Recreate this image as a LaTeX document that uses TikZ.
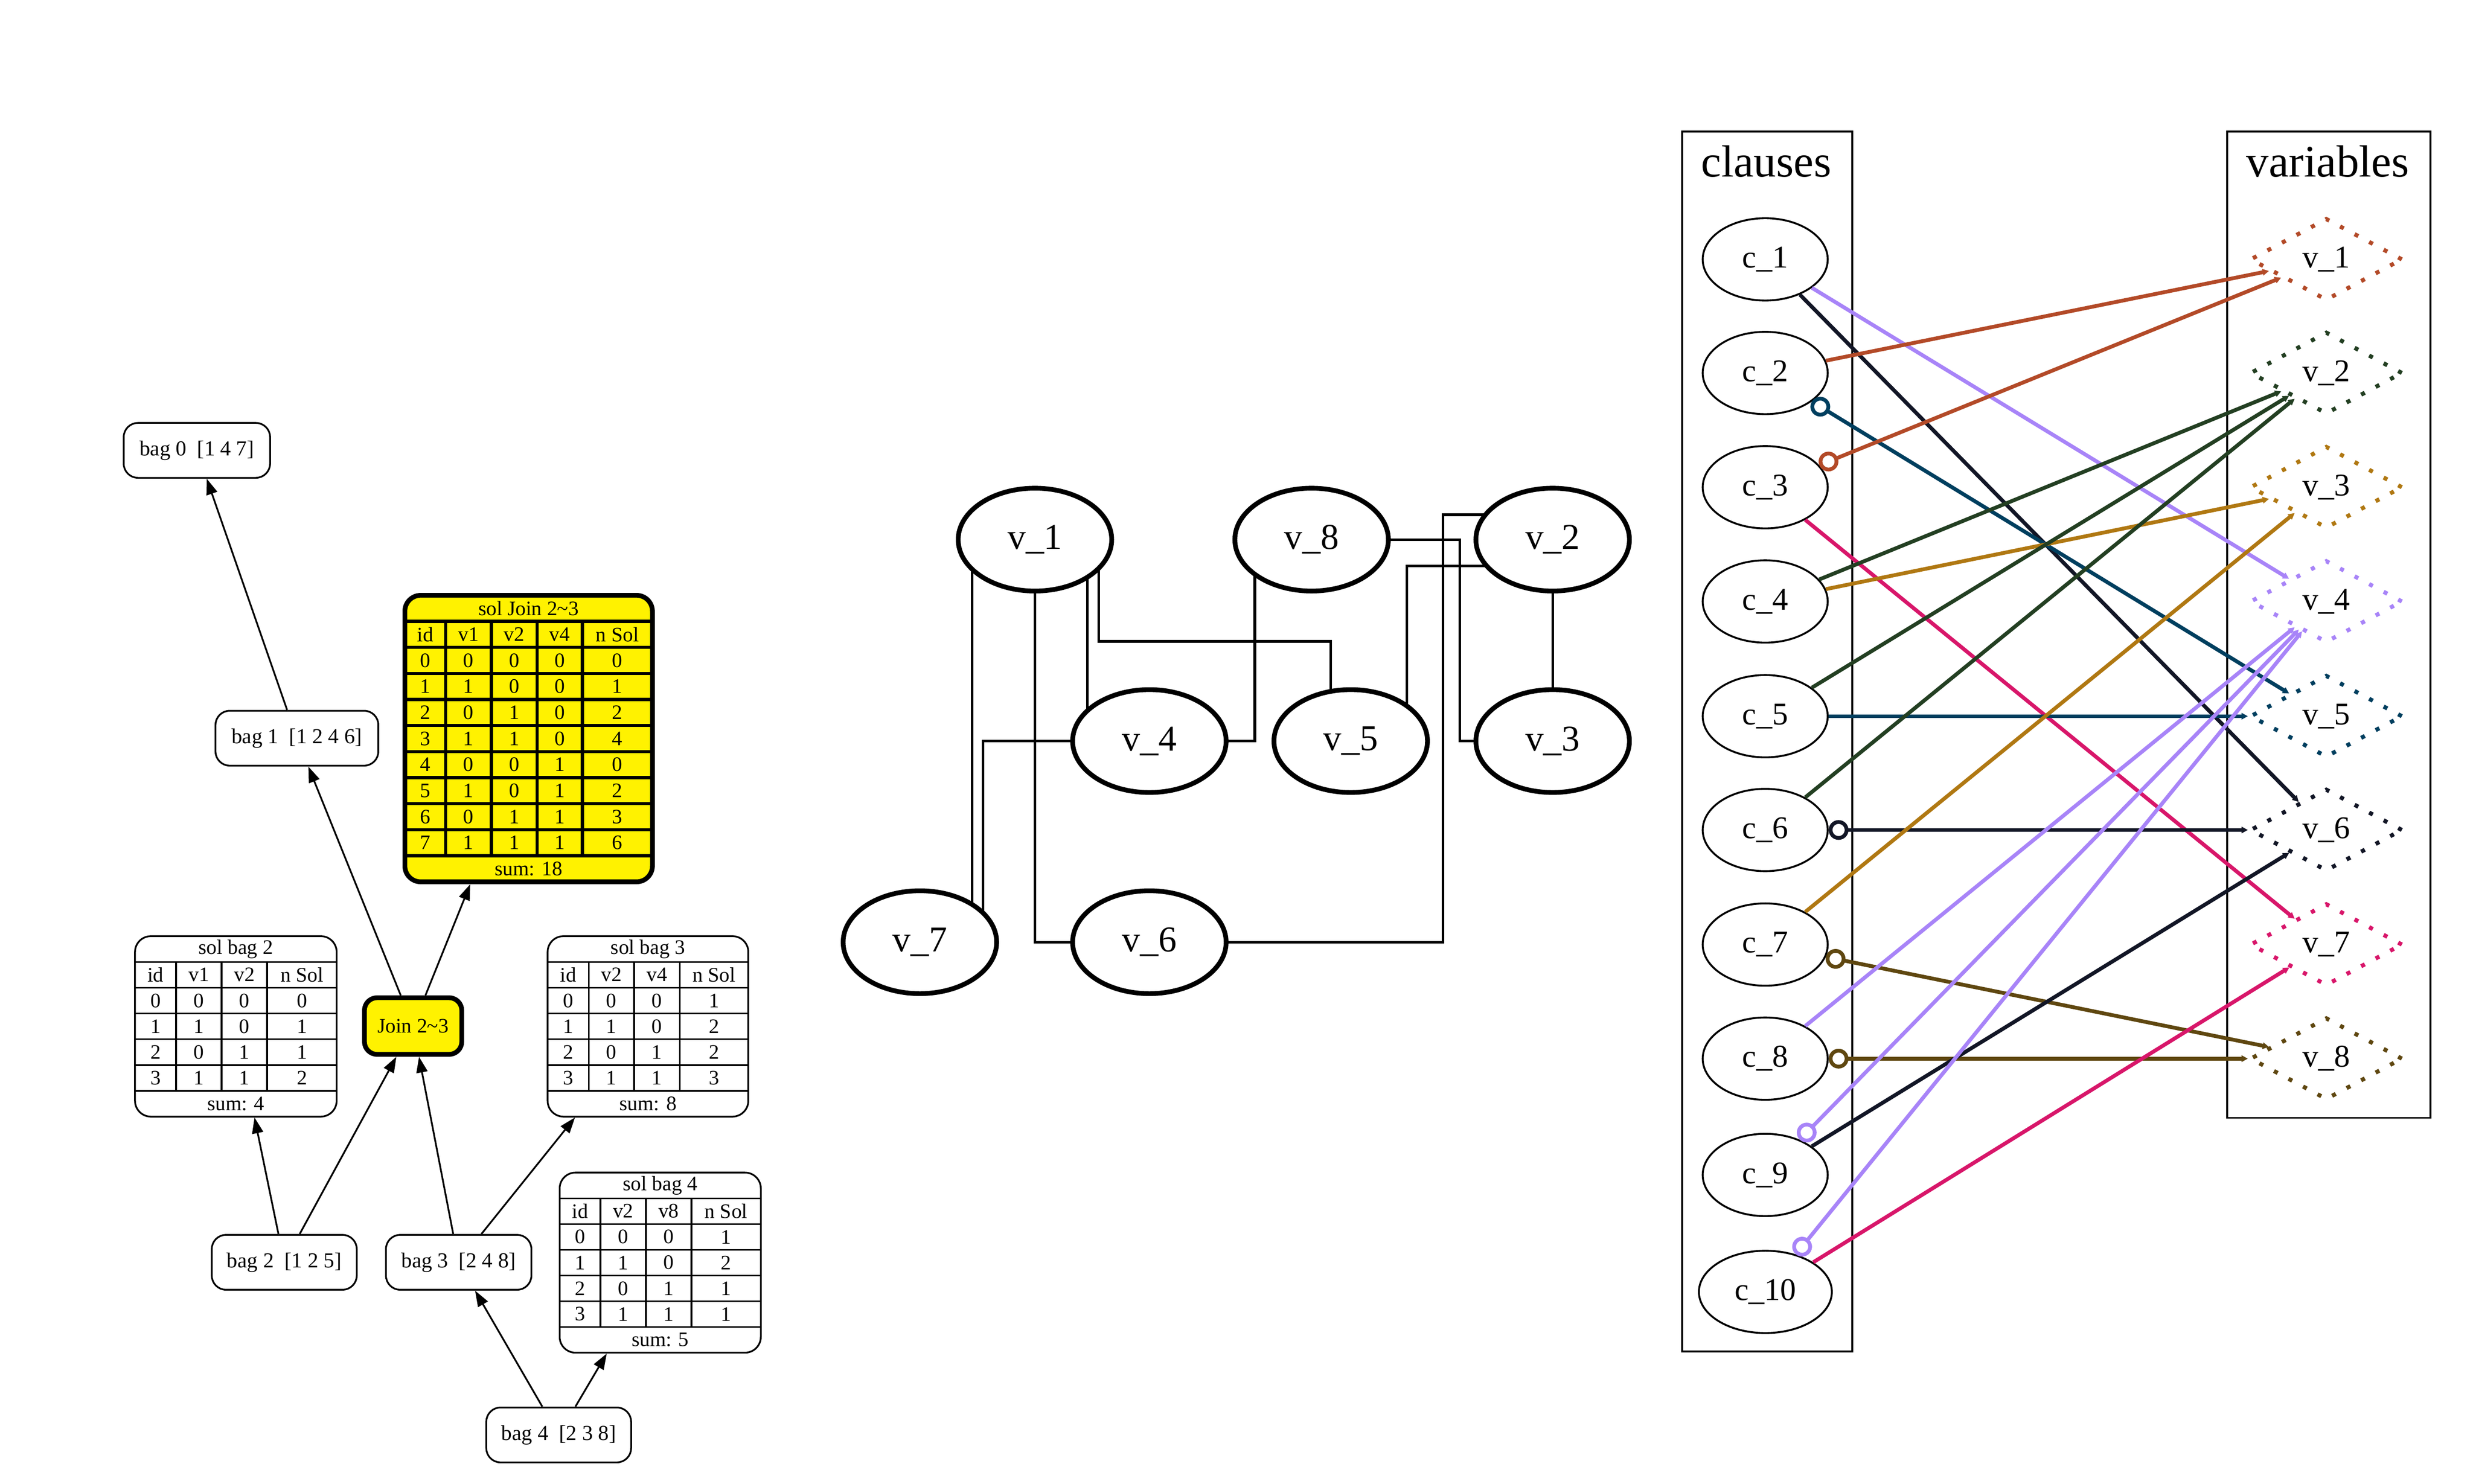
\documentclass[tikz,border=0pt]{standalone}
\usepackage{fontspec}
\setmainfont{Liberation Serif}
\usetikzlibrary{arrows.meta,shapes.geometric,fit,calc}
\pgfdeclarelayer{bg}
\pgfsetlayers{bg,main}
\definecolor{vcA}{HTML}{B34A28}
\definecolor{vcB}{HTML}{233F22}
\definecolor{vcC}{HTML}{B07812}
\definecolor{vcD}{HTML}{A884F8}
\definecolor{vcE}{HTML}{003F5F}
\definecolor{vcF}{HTML}{121626}
\definecolor{vcG}{HTML}{D8166A}
\definecolor{vcH}{HTML}{5F4710}
\tikzset{
  treefont/.style={font=\fontsize{13.5pt}{16pt}\selectfont},
  bagnode/.style={draw, rounded corners=9pt, line width=1.1pt, minimum height=34.7pt, inner sep=0pt, treefont},
  joinnode/.style={draw, fill=yellow, rounded corners=8pt, line width=3pt, minimum width=61.5pt, minimum height=35.8pt, inner sep=0pt, font=\fontsize{13pt}{15pt}\selectfont},
  tabbox/.style={draw, rounded corners=10pt, inner sep=0pt},
  plainbox/.style={line width=1.1pt},
  joinbox/.style={fill=yellow, line width=3pt},
  plaingrid/.style={line width=1.1pt},
  joingrid/.style={line width=2pt},
  tabtext/.style={font=\fontsize{13pt}{15pt}\selectfont, inner sep=0pt},
  treeedge/.style={line width=1.1pt, -{Triangle[length=10pt,width=7pt]}},
  gnode/.style={ellipse, draw, line width=3pt, fill=white, minimum width=97pt, minimum height=65pt, inner sep=0pt, font=\fontsize{23pt}{26pt}\selectfont},
  gedge/.style={line width=1.6pt},
  cnode/.style={ellipse, draw, line width=1.2pt, minimum width=79pt, minimum height=52pt, inner sep=0pt, font=\fontsize{20pt}{23pt}\selectfont},
  vnode/.style={diamond, draw=#1, line width=2.6pt, dash pattern=on 2.6pt off 7.8pt, minimum width=96.5pt, minimum height=52pt, inner sep=0pt, aspect=1.85, font=\fontsize{20pt}{23pt}\selectfont},
  posedge/.style={line width=2.4pt, -{Triangle[length=4pt,width=4pt]}},
  negedge/.style={line width=2.4pt, {Circle[open,length=12.5pt,width=12.5pt]}-{Triangle[length=4pt,width=4pt]}},
  clusterbox/.style={draw, line width=1.2pt, inner sep=0pt},
  ctitle/.style={font=\fontsize{28.5pt}{32pt}\selectfont, anchor=base, inner sep=0pt},
}
% table drawer: #1 name, #2 kind (plain/join), #3 title, #4 rows, #5 sum
\newcommand{\drawtab}[5]{%
  \pgfmathsetmacro\TabBot{\TabTop+(\TabNr+3)*\TabH}%
  \pgfmathtruncatemacro\TabLast{\TabNr+2}%
  \pgfmathsetmacro\TabMid{(\TabXl+\TabXr)/2}%
  \node[tabbox,#2box,fit={(\TabXl,\TabTop) (\TabXr,\TabBot)}] (#1) {};
  \node[tabtext] at (\TabMid,{\TabTop+0.5*\TabH}) {#3};
  \foreach \k in {1,...,\TabLast} {\draw[#2grid] (\TabXl,{\TabTop+\k*\TabH}) -- (\TabXr,{\TabTop+\k*\TabH});}
  \foreach \x in \TabVx {\draw[#2grid] (\x,{\TabTop+\TabH}) -- (\x,{\TabTop+(\TabNr+2)*\TabH});}
  \foreach \r [count=\k] in {#4} {%
    \foreach \c [count=\j] in \r {%
      \pgfmathsetmacro\cx{\TabCx[\j-1]}%
      \node[tabtext] at (\cx,{\TabTop+(\k+0.5)*\TabH}) {\c};
    }%
  }
  \node[tabtext] at (\TabMid,{\TabTop+(\TabNr+2.5)*\TabH}) {#5};
}
\begin{document}
\begin{tikzpicture}[x=1pt,y=-1pt]
\begin{pgfonlayer}{bg}
\fill[white] (0,0) rectangle (1562.5,937.5);
\end{pgfonlayer}
\useasboundingbox (0,0) rectangle (1562.5,937.5);

% ---------------- left: tree decomposition ----------------
\node[bagnode, minimum width=92.5pt] (bag0) at (124.4,284.6) {bag 0~~[1 4 7]};
\node[bagnode, minimum width=102.9pt] (bag1) at (187.6,466.5) {bag 1~~[1 2 4 6]};
\node[joinnode] (join) at (261,648.4) {Join 2\textasciitilde3};
\node[bagnode, minimum width=91.6pt] (bag2) at (179.6,797.7) {bag 2~~[1 2 5]};
\node[bagnode, minimum width=91.9pt] (bag3) at (289.8,797.7) {bag 3~~[2 4 8]};
\node[bagnode, minimum width=91.5pt] (bag4) at (353,906.8) {bag 4~~[2 3 8]};

\def\TabXl{85.3}\def\TabXr{212.7}\def\TabTop{591.6}\def\TabH{16.29}\def\TabNr{4}
\def\TabVx{111.3,140.0,168.8}
\def\TabCx{{98.3,125.65,154.4,190.75}}
\drawtab{sb2}{plain}{sol bag 2}{{id,v1,v2,n Sol},{0,0,0,0},{1,1,0,1},{2,0,1,1},{3,1,1,2}}{sum: 4}

\def\TabXl{346}\def\TabXr{472.8}\def\TabTop{591.6}\def\TabH{16.29}\def\TabNr{4}
\def\TabVx{372,400.7,429.5}
\def\TabCx{{359,386.35,415.1,451.15}}
\drawtab{sb3}{plain}{sol bag 3}{{id,v2,v4,n Sol},{0,0,0,1},{1,1,0,2},{2,0,1,2},{3,1,1,3}}{sum: 8}

\def\TabXl{353.6}\def\TabXr{480.7}\def\TabTop{741}\def\TabH{16.26}\def\TabNr{4}
\def\TabVx{379.3,408.1,436.8}
\def\TabCx{{366.45,393.7,422.45,458.75}}
\drawtab{sb4}{plain}{sol bag 4}{{id,v2,v8,n Sol},{0,0,0,1},{1,1,0,2},{2,0,1,1},{3,1,1,1}}{sum: 5}

\def\TabXl{255.8}\def\TabXr{412.2}\def\TabTop{376.2}\def\TabH{16.46}\def\TabNr{8}
\def\TabVx{281.6,310.5,339.3,368.0}
\def\TabCx{{268.7,296.05,324.9,353.65,390.1}}
\drawtab{sj}{join}{sol Join 2\textasciitilde3}{{id,v1,v2,v4,n Sol},{0,0,0,0,0},{1,1,0,0,1},{2,0,1,0,2},{3,1,1,0,4},{4,0,0,1,0},{5,1,0,1,2},{6,0,1,1,3},{7,1,1,1,6}}{sum: 18}

\draw[treeedge] (bag1) -- (bag0);
\draw[treeedge] (join) -- (bag1);
\draw[treeedge] (join) -- (sj);
\draw[treeedge] (bag2) -- (sb2);
\draw[treeedge] (bag2) -- (join);
\draw[treeedge] (bag3) -- (join);
\draw[treeedge] (bag3) -- (sb3);
\draw[treeedge] (bag4) -- (bag3);
\draw[treeedge] (bag4) -- (sb4);

% ---------------- middle: primal graph ----------------
\node[gnode] (m1) at (653.9,341) {v\_1};
\node[gnode] (m8) at (828.7,341) {v\_8};
\node[gnode] (m2) at (981,341) {v\_2};
\node[gnode] (m4) at (726.2,468.3) {v\_4};
\node[gnode] (m5) at (853.4,468.3) {v\_5};
\node[gnode] (m3) at (981,468.3) {v\_3};
\node[gnode] (m7) at (581.2,595.4) {v\_7};
\node[gnode] (m6) at (726.2,595.4) {v\_6};
\begin{pgfonlayer}{bg}
\draw[gedge] ($(m1)+(-39.8,0)$) -- ($(m7)+(32.9,0)$);
\draw[gedge] (m4.center) -| ($(m7)+(39.9,0)$);
\draw[gedge] (m1.center) |- (m6.center);
\draw[gedge] ($(m1)+(33.1,0)$) -- ($(m4)+(-39.2,0)$);
\draw[gedge] ($(m1)+(40.2,0)$) -- ++(0,64.3) -| ($(m5)+(-12.7,0)$);
\draw[gedge] ($(m8)+(-35.9,0)$) |- (m4.center);
\draw[gedge] (m8.center) -- ++(93.7,0) |- (m3.center);
\draw[gedge] ($(m2)+(0,16.6)$) -| ($(m5)+(35.5,0)$);
\draw[gedge] ($(m2)+(0,-15.7)$) -- ++(-69.3,0) |- (m6.center);
\draw[gedge] (m2) -- (m3);
\end{pgfonlayer}

% ---------------- right: incidence graph ----------------
\node[clusterbox, fit={(1062.8,83) (1170.3,854)}] (clbox) {};
\node[clusterbox, fit={(1407.2,83) (1535.7,706.4)}] (vabox) {};
\node[ctitle] (clt) at (1116,111.7) {clauses};
\node[ctitle] (vat) at (1470.7,111.7) {variables};

\node[cnode] (cl1) at (1115.3,163.9) {c\_1};
\node[cnode] (cl2) at (1115.3,235.7) {c\_2};
\node[cnode] (cl3) at (1115.3,307.9) {c\_3};
\node[cnode] (cl4) at (1115.3,380.1) {c\_4};
\node[cnode] (cl5) at (1115.3,452.6) {c\_5};
\node[cnode] (cl6) at (1115.3,524.5) {c\_6};
\node[cnode] (cl7) at (1115.3,596.9) {c\_7};
\node[cnode] (cl8) at (1115.3,669) {c\_8};
\node[cnode] (cl9) at (1115.3,742.5) {c\_9};
\node[cnode, minimum width=84pt] (cl10) at (1115.4,816.4) {c\_10};

\node[vnode=vcA] (var1) at (1469.8,163.9) {v\_1};
\node[vnode=vcB] (var2) at (1469.8,235.7) {v\_2};
\node[vnode=vcC] (var3) at (1469.8,307.9) {v\_3};
\node[vnode=vcD] (var4) at (1469.8,380.1) {v\_4};
\node[vnode=vcE] (var5) at (1469.8,452.6) {v\_5};
\node[vnode=vcF] (var6) at (1469.8,524.5) {v\_6};
\node[vnode=vcG] (var7) at (1469.8,596.9) {v\_7};
\node[vnode=vcH] (var8) at (1469.8,669) {v\_8};

\draw[posedge, vcD] (cl1) -- (var4);
\draw[posedge, vcF] (cl1) -- (var6);
\draw[posedge, vcA] (cl2) -- (var1);
\draw[negedge, vcE] (cl2) -- (var5);
\draw[negedge, vcA] (cl3) -- (var1);
\draw[posedge, vcG] (cl3) -- (var7);
\draw[posedge, vcB] (cl4) -- (var2);
\draw[posedge, vcC] (cl4) -- (var3);
\draw[posedge, vcB] (cl5) -- (var2);
\draw[posedge, vcE] (cl5) -- (var5);
\draw[posedge, vcB] (cl6) -- (var2);
\draw[negedge, vcF] (cl6) -- (var6);
\draw[posedge, vcC] (cl7) -- (var3);
\draw[negedge, vcH] (cl7) -- (var8);
\draw[posedge, vcD] (cl8) -- (var4);
\draw[negedge, vcH] (cl8) -- (var8);
\draw[negedge, vcD] (cl9) -- (var4);
\draw[posedge, vcF] (cl9) -- (var6);
\draw[negedge, vcD] (cl10) -- (var4);
\draw[posedge, vcG] (cl10) -- (var7);
\end{tikzpicture}
\end{document}
